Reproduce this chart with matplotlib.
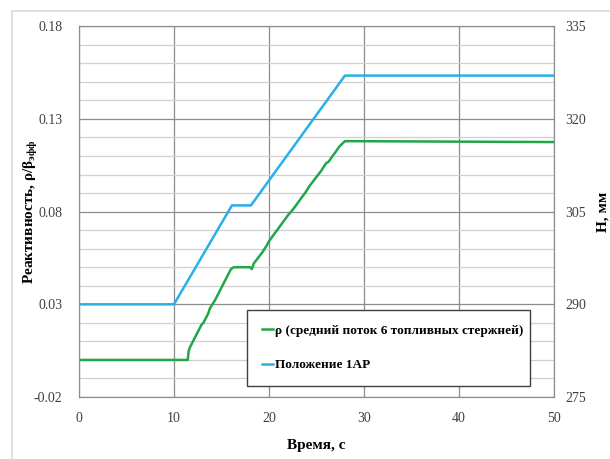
import matplotlib
matplotlib.use("Agg")
import matplotlib.pyplot as plt
from matplotlib.patches import Rectangle
from matplotlib.ticker import MultipleLocator

plt.rcParams['font.family'] = ['Liberation Serif', 'DejaVu Serif']
plt.rcParams['mathtext.fontset'] = 'custom'
plt.rcParams['mathtext.rm'] = 'Liberation Serif'
plt.rcParams['mathtext.bf'] = 'Liberation Serif:bold'

# time, s / reactivity rho/beta_eff (green)
rho_t = [0, 11.45, 11.55, 11.7, 12.2, 12.4, 12.9, 13.1, 13.6, 13.8, 14.3, 14.5,
         15.0, 15.3, 15.7, 16.0, 16.3, 18.0, 18.2, 18.4, 19.0, 19.3, 19.8, 20.0,
         21.0, 22.0, 22.5, 22.8, 23.5, 23.8, 24.3, 24.6, 25.2, 25.5, 26.0, 26.3,
         26.7, 27.0, 27.4, 28.0, 50]
rho_v = [0.0, 0.0, 0.005, 0.007, 0.012, 0.014, 0.019, 0.020, 0.025, 0.028, 0.032, 0.034,
         0.039, 0.042, 0.046, 0.049, 0.050, 0.050, 0.049, 0.052, 0.056, 0.058, 0.062, 0.064,
         0.071, 0.078, 0.081, 0.083, 0.088, 0.090, 0.094, 0.096, 0.100, 0.102, 0.106, 0.107,
         0.110, 0.112, 0.115, 0.118, 0.1175]

# time, s / position of 1AP, mm (blue)
pos_t = [0, 10, 16.1, 18.1, 28.0, 50]
pos_v = [290, 290, 306, 306, 327, 327]

fig = plt.figure(figsize=(6.1, 4.59), dpi=100)
fig.patches.append(Rectangle((0.02, -0.1), 1.1, 1.075, transform=fig.transFigure,
                             fill=False, edgecolor='#d9d9d9', linewidth=1.2))

ax = fig.add_axes([0.1295, 0.135, 0.7785, 0.808])
ax2 = ax.twinx()

ax.set_xlim(0, 50)
ax.set_ylim(-0.02, 0.18)
ax2.set_ylim(275, 335)
ax.set_xticks(range(0, 51, 10))
ax.set_yticks([-0.02, 0.03, 0.08, 0.13, 0.18])
ax.set_yticklabels(['-0.02', '0.03', '0.08', '0.13', '0.18'])
ax2.set_yticks([275, 290, 305, 320, 335])
ax.yaxis.set_minor_locator(MultipleLocator(0.01))

ax.grid(True, which='major', color='#8c8c8c', linewidth=0.9)
ax.grid(True, which='minor', axis='y', color='#d0d0d0', linewidth=0.9)
ax.set_axisbelow(True)

for a in (ax, ax2):
    for s in a.spines.values():
        s.set_color('#8c8c8c')
    a.tick_params(length=0, labelsize=10, labelcolor='#404040')
ax.tick_params(axis='y', pad=12)
ax.tick_params(axis='x', pad=11)
ax2.tick_params(axis='y', pad=8)
ax.tick_params(which='minor', length=0)

l1, = ax.plot(rho_t, rho_v, color='#21a64a', linewidth=1.8,
              label='ρ (средний поток 6 топливных стержней)')
l2, = ax2.plot(pos_t, pos_v, color='#29b0e8', linewidth=1.8, label='Положение 1АР')

ax.set_xlabel('Время, с', fontsize=11, fontweight='bold')
ax.set_ylabel('Реактивность, ρ/β$_{\\mathbf{эфф}}$', fontsize=11, fontweight='bold')
ax2.set_ylabel('Н, мм', fontsize=11, fontweight='bold')
ax.xaxis.set_label_coords(0.5, -0.112)
ax.yaxis.set_label_coords(-0.082, 0.5)
ax2.yaxis.set_label_coords(1.09, 0.5)

leg = ax2.legend(handles=[l1, l2], loc='lower left', bbox_to_anchor=(0.354, 0.03, 0.596, 0.194),
                 mode='expand', borderaxespad=0, fancybox=False, framealpha=1,
                 edgecolor='#404040', handlelength=0.9, handletextpad=0.1, borderpad=1.1,
                 labelspacing=1.7, prop={'weight': 'bold', 'size': 9.5})
leg.get_frame().set_linewidth(1.0)

fig.savefig('out.png', dpi=100)
